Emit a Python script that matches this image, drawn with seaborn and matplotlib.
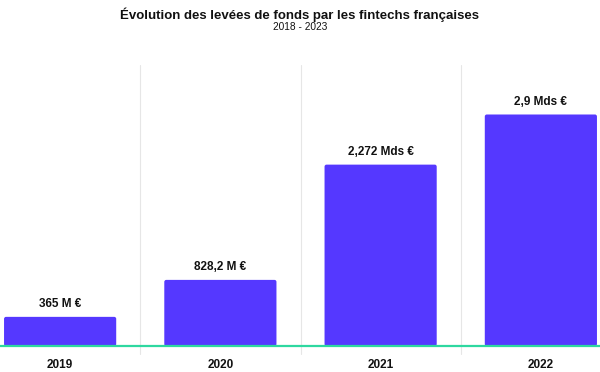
import matplotlib
matplotlib.use("Agg")
import matplotlib.pyplot as plt
import seaborn as sns
import pandas as pd
from matplotlib.patches import FancyBboxPatch
import matplotlib.transforms as mtransforms

years = ["2019", "2020", "2021", "2022"]
values = [365, 828.2, 2272, 2900]  # millions €
labels = ["365 M €", "828,2 M €", "2,272 Mds €", "2,9 Mds €"]
title = "Évolution des levées de fonds par les fintechs françaises"
subtitle = "2018 - 2023"

sns.set_theme(style="white")
plt.rcParams['font.family'] = ['Liberation Sans', 'DejaVu Sans']

W, H = 600, 372
fig = plt.figure(figsize=(6, 3.72), dpi=100)
left_px, right_px = -20, 621
top_px, base_px = 65, 346
ax = fig.add_axes([left_px / W, (H - base_px) / H, (right_px - left_px) / W, (base_px - top_px) / H])

df = pd.DataFrame({"year": years, "value": values})
bar_color = "#5538ff"
sns.barplot(data=df, x="year", y="value", color=bar_color, saturation=1, width=0.7, ax=ax)
ax.set_xlim(-0.5, len(years) - 0.5)
ymax = 3520
ax.set_ylim(0, ymax)

# rounded corners
xpx = (right_px - left_px) / len(years)
ypx = (base_px - top_px) / ymax
r_px = 2.0
for p in list(ax.patches):
    x, y, w, h = p.get_x(), p.get_y(), p.get_width(), p.get_height()
    fb = FancyBboxPatch((x, y), w, h,
                        boxstyle=f"round,pad=0,rounding_size={r_px / xpx}",
                        mutation_aspect=(1 / ypx) / (1 / xpx),
                        facecolor=bar_color, edgecolor="none", zorder=2)
    p.remove()
    ax.add_patch(fb)

# separators
trans = mtransforms.blended_transform_factory(ax.transData, ax.transAxes)
bottom_frac = -(354 - base_px) / (base_px - top_px)
for i in range(len(years) - 1):
    ax.plot([i + 0.5, i + 0.5], [bottom_frac, 1], transform=trans, color="#e6e6e6",
            lw=0.8, clip_on=False, zorder=1)

# baseline
ax.axhline(0, color="#2ed8a0", lw=1.6, zorder=3, clip_on=False)

for i, (v, lab) in enumerate(zip(values, labels)):
    ax.annotate(lab, (i, v), xytext=(0, 5), textcoords="offset points",
                ha="center", va="bottom", fontsize=8.5, fontweight="bold", color="#111111")

for s in ax.spines.values():
    s.set_visible(False)
ax.set_yticks([])
ax.set_xlabel("")
ax.set_ylabel("")
ax.tick_params(axis="x", length=0, pad=9, labelsize=8.5, labelcolor="#111111")
for t in ax.get_xticklabels():
    t.set_fontweight("bold")

fig.text(0.5, 1 - 15 / H, title, ha="center", va="center", fontsize=9.5, fontweight="bold", color="#111111")
fig.text(0.5, 1 - 27.5 / H, subtitle, ha="center", va="center", fontsize=7.3, color="#111111")

fig.savefig("out.png", dpi=100, facecolor="white")
